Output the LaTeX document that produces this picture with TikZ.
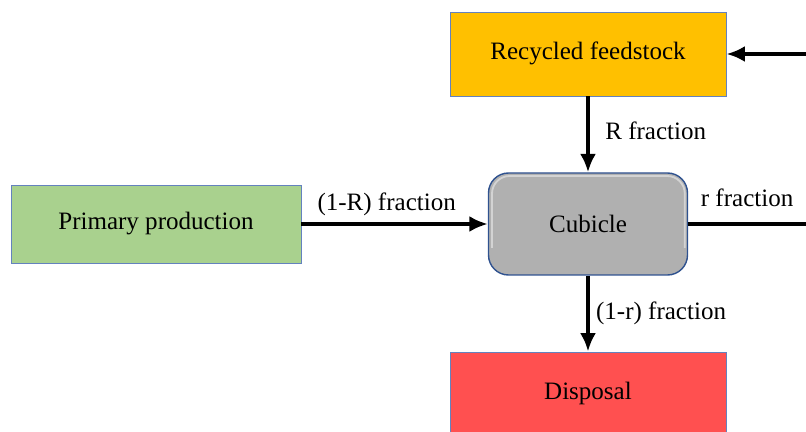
\documentclass[tikz,border=0pt]{standalone}
\usepackage{fontspec}
\setmainfont{Liberation Serif}
\usetikzlibrary{arrows.meta}
\definecolor{feedorange}{RGB}{255,192,0}
\definecolor{primgreen}{RGB}{169,209,142}
\definecolor{disred}{RGB}{255,80,80}
\definecolor{cubgray}{RGB}{176,176,176}
\definecolor{boxblue}{RGB}{100,130,190}
\definecolor{cubblue}{RGB}{47,82,143}
\tikzset{
  box/.style={draw=boxblue, line width=0.7pt, minimum width=6.9cm, minimum height=2.1cm, text height=0.95em, text depth=0.2em},
  cubbox/.style={draw=cubblue, line width=1pt, fill=cubgray, rounded corners=0.5cm, minimum width=4.975cm, minimum height=2.55cm},
  flow/.style={line width=2.6pt, -{Latex[length=4.6mm,width=4mm]}}
}
\begin{document}
\begin{tikzpicture}[font=\fontsize{17.8}{21}\selectfont]
  \clip (0,0) rectangle (20.15,10.8);
  \node[box, fill=feedorange] (recyc) at (14.7,9.45) {Recycled feedstock};
  \node[cubbox] (cub) at (14.7,5.2) {};
  \draw[white, opacity=0.45, line width=1.3pt, rounded corners=0.44cm] (12.3,4.6)--(12.3,6.4)--(17.12,6.4)--(17.12,4.6);
  \node at (cub.center) {Cubicle};
  \node[box, fill=primgreen, minimum width=7.25cm, minimum height=1.95cm] (prim) at (3.9,5.2) {Primary production};
  \node[box, fill=disred] (disp) at (14.7,0.95) {Disposal};
  \coordinate (feedin) at (20.15,9.45);
  \coordinate (recout) at (20.15,5.2);
  \draw[flow] (feedin)--(recyc);
  \draw[flow] (recyc)--(cub) node[midway, right=0.27cm, yshift=0.1cm] {R fraction};
  \draw[flow] (prim)--(cub) node[midway, above=0.05cm, xshift=-0.2cm] {(1-R) fraction};
  \draw[line width=2.6pt] (cub)--(recout) node[midway, above=0.28cm] {r fraction};
  \draw[flow] (cub)--(disp) node[midway, right=0.04cm] {(1-r) fraction};
\end{tikzpicture}
\end{document}
